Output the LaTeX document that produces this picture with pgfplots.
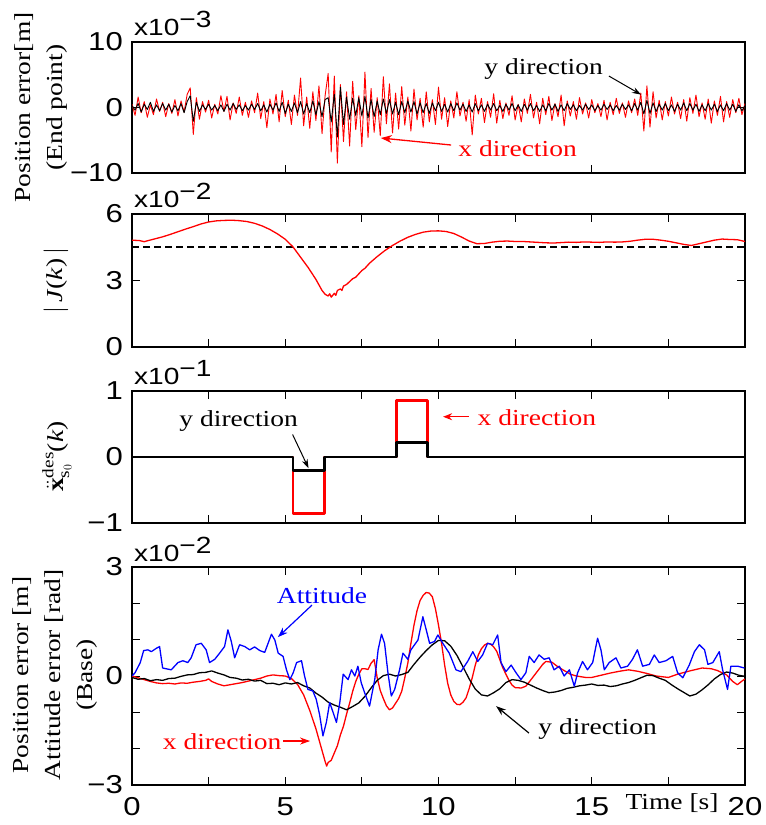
\documentclass[border=0pt]{standalone}
\usepackage{amsmath}
\usepackage{fontspec}
\setmainfont{Liberation Serif}[FakeStretch=1.2]
\newfontfamily\sansf{Liberation Sans}[FakeStretch=1.2]
\usepackage{pgfplots}
\pgfplotsset{compat=1.18}
\usepackage{pgfplotstable}
\usetikzlibrary{arrows.meta}
\newcommand\tickfont{\sansf\fontsize{26}{26}\selectfont}
\newcommand\lblfont{\fontsize{23}{32}\selectfont}
\newcommand\expfont{\sansf\fontsize{23.5}{23.5}\selectfont}
\definecolor{myred}{RGB}{255,0,0}
\definecolor{myblue}{RGB}{0,0,255}

\pgfplotstableread{
t xr yb
0.0 0.5 0.3
0.1 -1.2 -0.4
0.2 1.6 0.6
0.3 -0.8 -0.7
0.4 0.9 0.5
0.5 -1.5 -0.3
0.6 0.4 0.8
0.7 -1.1 -0.6
0.8 1.3 0.4
0.9 -0.6 -0.5
1.0 0.8 0.6
1.1 -1.4 -0.4
1.2 0.6 0.5
1.3 -0.9 -0.7
1.4 1.2 0.3
1.5 -1.3 -0.5
1.6 1.0 0.6
1.7 -0.7 -0.8
1.8 2.0 0.9
1.9 3.0 1.8
2.0 -4.1 -2.1
2.1 1.5 0.8
2.2 -1.8 -0.6
2.3 0.9 0.4
2.4 -0.7 -0.3
2.5 1.1 0.5
2.6 -1.6 -0.4
2.7 0.5 0.3
2.8 -1.0 -0.5
2.9 1.8 0.4
3.0 -0.6 -0.6
3.1 1.7 0.5
3.2 -1.9 -0.4
3.3 0.7 0.6
3.4 -0.9 -0.3
3.5 1.6 0.4
3.6 -1.2 -0.5
3.7 0.8 0.3
3.8 -1.5 -0.4
3.9 1.0 0.5
4.0 -0.8 -0.3
4.1 2.2 0.6
4.2 -1.7 -0.5
4.3 0.9 0.4
4.4 -3.1 -0.7
4.5 1.3 0.5
4.6 -1.0 -0.4
4.7 2.0 0.7
4.8 -2.2 -0.6
4.9 2.6 0.8
5.0 -1.4 -0.9
5.1 1.1 0.5
5.2 -2.6 -0.6
5.3 1.9 0.7
5.4 -1.2 -0.8
5.5 4.5 0.9
5.6 -2.8 -1.0
5.7 1.6 0.6
5.8 -3.2 -0.8
5.9 2.4 1.0
6.0 -2.0 -1.1
6.1 3.3 0.9
6.2 -4.0 -1.4
6.3 1.8 1.2
6.4 5.2 1.5
6.5 -6.8 -2.2
6.6 4.8 2.0
6.7 -8.5 -4.5
6.8 3.5 3.1
6.9 -5.2 -2.6
7.0 2.4 1.6
7.1 -5.9 -1.8
7.2 4.0 1.4
7.3 -3.4 -1.2
7.4 1.8 1.5
7.5 -6.0 -1.3
7.6 5.4 1.7
7.7 -4.6 -1.6
7.8 2.9 1.2
7.9 -3.8 -1.4
8.0 1.5 1.0
8.1 -4.3 -1.1
8.2 4.7 1.3
8.3 -2.5 -0.9
8.4 3.6 1.2
8.5 -3.9 -1.0
8.6 2.2 0.8
8.7 -3.3 -1.1
8.8 3.2 0.9
8.9 -2.7 -0.8
9.0 1.6 1.0
9.1 -3.6 -0.7
9.2 2.8 0.9
9.3 -1.9 -1.0
9.4 1.4 0.7
9.5 -3.0 -0.8
9.6 2.4 0.6
9.7 -2.2 -0.9
9.8 1.2 0.7
9.9 -2.6 -0.5
10.0 3.1 0.8
10.1 -1.8 -0.6
10.2 1.5 0.5
10.3 -2.9 -0.7
10.4 1.0 0.6
10.5 -1.6 -0.5
10.6 2.4 0.7
10.7 -1.3 -0.4
10.8 0.8 0.5
10.9 -2.1 -0.6
11.0 1.2 0.4
11.1 -4.2 -0.7
11.2 1.9 0.6
11.3 -1.0 -0.5
11.4 1.4 0.4
11.5 -2.3 -0.6
11.6 0.9 0.5
11.7 -1.5 -0.4
11.8 2.1 0.6
11.9 -2.4 -0.5
12.0 1.1 0.3
12.1 -1.7 -0.6
12.2 0.7 0.5
12.3 -1.2 -0.4
12.4 1.8 0.6
12.5 -1.9 -0.5
12.6 0.5 0.4
12.7 -2.2 -0.6
12.8 1.3 0.5
12.9 -0.9 -0.4
13.0 2.0 0.6
13.1 -1.6 -0.5
13.2 0.8 0.3
13.3 -2.5 -0.6
13.4 1.4 0.4
13.5 -1.1 -0.5
13.6 1.7 0.6
13.7 -2.0 -0.4
13.8 0.6 0.5
13.9 -1.4 -0.6
14.0 1.9 0.4
14.1 -2.8 -0.5
14.2 1.0 0.6
14.3 -1.3 -0.3
14.4 0.9 0.4
14.5 -1.8 -0.5
14.6 1.5 0.3
14.7 -1.0 -0.4
14.8 0.7 0.5
14.9 -1.6 -0.3
15.0 1.2 0.4
15.1 -0.8 -0.5
15.2 0.6 0.3
15.3 -1.4 -0.4
15.4 1.1 0.5
15.5 -1.9 -0.3
15.6 0.8 0.4
15.7 -1.1 -0.5
15.8 1.4 0.3
15.9 -0.9 -0.4
16.0 0.7 0.5
16.1 -1.5 -0.3
16.2 1.0 0.4
16.3 -0.8 -0.5
16.4 1.3 0.6
16.5 -1.2 -0.4
16.6 2.2 0.8
16.7 -3.6 -1.0
16.8 3.3 1.1
16.9 -3.0 -0.9
17.0 2.4 0.7
17.1 -1.6 -0.6
17.2 1.1 0.5
17.3 -1.9 -0.4
17.4 0.9 0.6
17.5 -1.3 -0.5
17.6 1.6 0.4
17.7 -1.0 -0.6
17.8 0.8 0.5
17.9 -1.7 -0.4
18.0 1.2 0.7
18.1 -2.1 -0.5
18.2 1.5 0.6
18.3 -0.9 -0.4
18.4 1.9 0.5
18.5 -1.4 -0.6
18.6 0.7 0.4
18.7 -1.8 -0.5
18.8 1.3 0.6
18.9 -2.4 -0.4
19.0 1.0 0.5
19.1 -1.2 -0.6
19.2 1.7 0.4
19.3 -2.2 -0.5
19.4 0.9 0.6
19.5 -1.5 -0.4
19.6 1.2 0.5
19.7 -0.8 -0.6
19.8 1.4 0.4
19.9 -1.1 -0.5
20.0 0.6 0.3
}\endpt

\pgfplotstableread{
t J
0 4.82
0.25 4.80
0.4 4.75
0.5 4.79
0.75 4.88
1.0 4.97
1.25 5.08
1.5 5.20
1.75 5.32
2.0 5.43
2.25 5.55
2.5 5.64
2.75 5.69
3.0 5.71
3.25 5.72
3.5 5.70
3.75 5.66
4.0 5.58
4.25 5.46
4.5 5.30
4.75 5.10
5.0 4.86
5.25 4.52
5.5 4.05
5.75 3.58
6.0 3.05
6.2 2.55
6.3 2.38
6.4 2.30
6.45 2.40
6.5 2.25
6.6 2.42
6.65 2.33
6.7 2.55
6.8 2.62
6.85 2.55
6.9 2.75
7.0 2.82
7.1 2.95
7.2 3.08
7.3 3.15
7.4 3.30
7.5 3.45
7.6 3.55
7.75 3.78
8.0 4.08
8.25 4.35
8.5 4.58
8.75 4.78
9.0 4.95
9.25 5.08
9.5 5.18
9.75 5.23
10.0 5.24
10.25 5.21
10.5 5.12
10.75 4.96
11.0 4.78
11.25 4.66
11.5 4.67
11.75 4.73
12.0 4.77
12.25 4.78
12.5 4.76
12.75 4.76
13.0 4.74
13.25 4.72
13.5 4.70
13.75 4.69
14.0 4.71
14.25 4.73
14.5 4.72
14.75 4.74
15.0 4.73
15.25 4.72
15.5 4.74
15.75 4.73
16.0 4.74
16.25 4.77
16.5 4.82
16.75 4.86
17.0 4.86
17.25 4.82
17.5 4.77
17.75 4.70
18.0 4.63
18.25 4.58
18.5 4.66
18.75 4.74
19.0 4.82
19.25 4.87
19.5 4.85
19.75 4.84
20.0 4.76
}\Jt

\pgfplotstableread{
t v
0.0 0.00
0.2 -0.05
0.4 -0.10
0.6 -0.15
0.8 -0.19
1.0 -0.21
1.2 -0.20
1.4 -0.22
1.6 -0.19
1.8 -0.20
2.0 -0.17
2.2 -0.15
2.4 -0.12
2.5 -0.08
2.6 -0.15
2.8 -0.22
3.0 -0.27
3.2 -0.24
3.4 -0.21
3.6 -0.18
3.8 -0.14
4.0 -0.10
4.2 -0.06
4.4 0.00
4.6 0.03
4.8 0.01
5.0 0.00
5.2 -0.07
5.4 -0.23
5.6 -0.52
5.8 -0.95
6.0 -1.45
6.1 -1.75
6.2 -2.05
6.3 -2.35
6.35 -2.48
6.4 -2.38
6.5 -2.32
6.6 -2.12
6.7 -1.92
6.8 -1.62
6.9 -1.38
7.0 -1.05
7.1 -0.75
7.2 -0.42
7.3 -0.15
7.4 0.05
7.5 0.20
7.6 0.20
7.7 0.18
7.8 0.35
7.9 0.45
8.0 -0.05
8.1 -0.40
8.2 -0.62
8.3 -0.82
8.4 -0.93
8.5 -0.88
8.6 -0.75
8.7 -0.62
8.8 -0.42
8.9 -0.05
9.0 0.36
9.1 0.90
9.2 1.40
9.3 1.80
9.4 2.08
9.5 2.22
9.6 2.30
9.7 2.28
9.8 2.18
9.9 1.85
10.0 1.40
10.1 0.90
10.2 0.30
10.3 -0.20
10.4 -0.52
10.5 -0.70
10.6 -0.78
10.7 -0.79
10.8 -0.72
10.9 -0.60
11.0 -0.35
11.1 -0.05
11.2 0.30
11.3 0.58
11.4 0.75
11.5 0.85
11.6 0.90
11.7 0.88
11.8 0.80
11.9 0.68
12.0 0.45
12.1 0.22
12.2 0.05
12.3 -0.12
12.4 -0.25
12.5 -0.32
12.7 -0.33
12.85 -0.28
13.0 -0.12
13.2 0.10
13.4 0.32
13.5 0.40
13.7 0.38
13.9 0.25
14.1 0.15
14.3 0.05
14.5 0.00
14.8 -0.04
15.0 -0.04
15.3 0.02
15.6 0.08
15.9 0.13
16.2 0.17
16.5 0.13
16.8 0.07
17.1 0.00
17.5 -0.04
17.8 0.05
18.2 0.14
18.6 0.22
18.9 0.20
19.1 0.15
19.4 0.03
19.6 -0.15
19.75 -0.24
19.9 -0.14
20.0 -0.08
}\redb

\pgfplotstableread{
t v
0.0 -0.04
0.2 -0.09
0.4 -0.07
0.6 -0.13
0.8 -0.10
1.0 -0.12
1.2 -0.07
1.4 -0.06
1.6 -0.01
1.8 0.03
2.0 0.04
2.2 0.09
2.4 0.10
2.6 0.14
2.8 0.08
3.0 0.03
3.2 -0.04
3.4 -0.06
3.6 -0.11
3.8 -0.09
4.0 -0.14
4.2 -0.12
4.4 -0.21
4.6 -0.20
4.8 -0.24
5.0 -0.19
5.2 -0.22
5.4 -0.18
5.6 -0.27
5.8 -0.33
6.0 -0.47
6.2 -0.58
6.4 -0.72
6.6 -0.80
6.8 -0.86
7.0 -0.93
7.2 -0.84
7.4 -0.74
7.6 -0.56
7.8 -0.33
8.0 -0.12
8.2 0.01
8.4 0.05
8.6 0.00
8.8 0.04
9.0 0.10
9.2 0.32
9.4 0.52
9.6 0.70
9.8 0.86
10.0 0.98
10.2 0.97
10.4 0.82
10.6 0.57
10.8 0.25
11.0 -0.08
11.2 -0.36
11.4 -0.52
11.6 -0.55
11.8 -0.46
12.0 -0.35
12.2 -0.18
12.4 -0.10
12.6 -0.12
12.8 -0.17
13.0 -0.25
13.2 -0.33
13.4 -0.40
13.6 -0.46
13.8 -0.44
14.0 -0.40
14.2 -0.34
14.4 -0.31
14.6 -0.27
14.8 -0.25
15.0 -0.22
15.2 -0.26
15.4 -0.25
15.6 -0.29
15.8 -0.27
16.0 -0.22
16.2 -0.18
16.4 -0.12
16.6 -0.05
16.8 0.02
17.0 0.01
17.2 -0.06
17.4 -0.12
17.6 -0.24
17.8 -0.35
18.0 -0.45
18.2 -0.55
18.4 -0.50
18.6 -0.38
18.8 -0.24
19.0 -0.08
19.2 0.04
19.4 0.11
19.6 0.08
19.8 0.02
20.0 -0.01
}\blackb

\pgfplotstableread{
t v
0.0 0.00
0.1 0.09
0.27 0.37
0.38 0.70
0.52 0.72
0.63 0.67
0.79 0.76
0.90 0.81
1.00 0.22
1.28 0.17
1.50 0.37
1.66 0.42
1.82 0.37
1.93 0.50
2.09 0.86
2.26 0.90
2.42 0.72
2.53 0.37
2.70 0.46
2.86 0.63
3.02 0.81
3.13 1.27
3.24 0.95
3.35 0.50
3.51 0.86
3.68 0.81
3.84 0.72
4.00 0.80
4.17 0.70
4.33 0.65
4.44 0.90
4.55 1.15
4.66 0.99
4.77 0.63
4.93 0.54
5.04 0.17
5.15 -0.10
5.26 0.09
5.37 0.37
5.53 0.42
5.63 0.00
5.74 -0.37
5.90 -0.41
6.01 -0.64
6.12 -1.06
6.23 -1.65
6.34 -1.28
6.45 -0.73
6.56 -1.00
6.67 -1.28
6.78 -0.73
6.89 0.05
7.05 -0.10
7.16 0.17
7.27 0.00
7.37 0.27
7.48 -0.19
7.59 -0.46
7.75 -0.83
7.92 -0.10
8.03 0.72
8.14 1.15
8.24 0.90
8.35 0.09
8.46 -0.55
8.57 -0.37
8.73 0.17
8.84 0.63
9.00 0.46
9.10 0.72
9.33 0.99
9.49 1.63
9.60 1.27
9.71 0.90
9.87 0.95
9.98 1.13
10.14 0.90
10.35 0.63
10.57 0.17
10.73 0.12
10.95 0.40
11.12 0.67
11.28 0.40
11.44 0.58
11.60 0.90
11.77 0.86
11.93 1.13
12.04 0.37
12.20 0.12
12.37 0.30
12.53 0.09
12.69 -0.10
12.85 0.09
12.96 0.54
13.12 0.37
13.28 0.58
13.45 0.46
13.61 0.50
13.77 0.17
13.94 0.27
14.10 0.00
14.27 0.17
14.43 -0.28
14.54 0.09
14.70 0.40
14.86 0.17
15.03 0.37
15.19 1.04
15.30 0.72
15.41 0.17
15.57 0.37
15.79 0.50
15.95 0.22
16.17 0.27
16.33 0.46
16.49 0.72
16.66 0.27
16.88 0.32
17.04 0.58
17.20 0.37
17.42 0.42
17.64 0.54
17.80 0.09
17.97 -0.05
18.18 0.30
18.35 0.67
18.51 0.86
18.68 0.72
18.79 0.32
18.95 0.37
19.16 0.67
19.27 0.17
19.43 -0.37
19.54 0.27
19.76 0.27
19.98 0.22
}\blueb

\pgfplotsset{
  base/.style={
    scale only axis, width=613bp, xmin=0, xmax=20,
    clip mode=individual,
    axis line style={line width=1.8bp},
    tick style={line width=1.0bp, black},
    major tick length=8bp, minor tick length=8bp,
    tick label style={font=\tickfont, inner sep=0pt},
    yticklabel style={xshift=-9bp},
    xticklabel style={yshift=-12bp},
    every axis plot/.append style={line join=round},
  },
}

\begin{document}
\begin{tikzpicture}
\useasboundingbox (0,0) rectangle (766bp,825bp);

% Panel 1
\begin{axis}[base, at={(132bp,652bp)}, anchor=south west, height=131bp,
  ymin=-10, ymax=10, ytick={-10,0,10}, yticklabels={−10,0,10},
  xtick={5,10,15}, xticklabels={}, xtick pos=left]
\addplot[myred, line width=0.9bp] table[x=t, y=xr] {\endpt};
\addplot[black, line width=0.9bp] table[x=t, y=yb] {\endpt};
\node[anchor=base west, inner sep=0pt, font=\expfont] at (rel axis cs:0,1) [xshift=2bp, yshift=6bp] {x10\raisebox{8bp}{−3}};
\node[font=\lblfont, inner sep=0pt] at (axis cs:13.43,5.9) {y direction};
\draw[-{Stealth[length=9bp,width=6bp]}, line width=1bp] (axis cs:15.56,4.8) -- (axis cs:16.61,1.96);
\node[font=\lblfont, inner sep=0pt, text=myred] at (axis cs:12.58,-6.34) {x direction};
\draw[-{Stealth[length=11bp,width=8bp]}, line width=1.3bp, myred] (axis cs:10.41,-5.73) -- (axis cs:8.12,-4.66);
\end{axis}

% Panel 2
\begin{axis}[base, at={(132bp,478bp)}, anchor=south west, height=133bp,
  ymin=0, ymax=6, ytick={0,3,6}, yticklabels={0,3,6},
  xtick={2.5,5,7.5,10,12.5,15,17.5}, xticklabels={}]
\addplot[black, line width=1.5bp, dash pattern=on 7bp off 4bp] coordinates {(0,4.5) (20,4.5)};
\addplot[myred, line width=1.3bp] table[x=t, y=J] {\Jt};
\node[anchor=base west, inner sep=0pt, font=\expfont] at (rel axis cs:0,1) [xshift=2bp, yshift=6bp] {x10\raisebox{8bp}{−2}};
\end{axis}

% Panel 3
\begin{axis}[base, at={(132bp,302bp)}, anchor=south west, height=132bp,
  ymin=-1, ymax=1, ytick={-1,0,1}, yticklabels={−1,0,1},
  xtick={2.5,5,7.5,10,12.5,15,17.5}, xticklabels={}]
\addplot[myred, line width=2.8bp] coordinates {(0,0) (5.25,0) (5.25,-0.86) (6.29,-0.86) (6.29,0) (8.62,0) (8.62,0.86) (9.64,0.86) (9.64,0) (20,0)};
\addplot[black, line width=2.8bp] coordinates {(0,0) (5.25,0) (5.25,-0.21) (6.29,-0.21) (6.29,0) (8.62,0) (8.62,0.22) (9.64,0.22) (9.64,0) (20,0)};
\node[anchor=base west, inner sep=0pt, font=\expfont] at (rel axis cs:0,1) [xshift=2bp, yshift=6bp] {x10\raisebox{8bp}{−1}};
\node[font=\lblfont, inner sep=0pt] at (axis cs:3.48,0.54) {y direction};
\draw[-{Stealth[length=9bp,width=6bp]}, line width=1bp] (axis cs:5.24,0.34) -- (axis cs:5.76,-0.17);
\draw[-{Stealth[length=9bp,width=7bp]}, line width=1.3bp, myred] (axis cs:10.98,0.61) -- (axis cs:10.15,0.61);
\node[font=\lblfont, inner sep=0pt, text=myred, anchor=west] at (axis cs:11.27,0.6) {x direction};
\end{axis}

% Panel 4
\begin{axis}[base, at={(132bp,40bp)}, anchor=south west, height=218bp,
  ymin=-3, ymax=3, ytick={-3,-2,-1,0,1,2,3}, yticklabels={−3,,,0,,,3},
  xtick={0,5,10,15,20}, xticklabels={0,5,10,15,20},
  minor xtick={2.5,7.5,12.5,17.5}]
\addplot[myred, line width=1.3bp] table[x=t, y=v] {\redb};
\addplot[black, line width=1.3bp] table[x=t, y=v] {\blackb};
\addplot[myblue, line width=1.3bp] table[x=t, y=v] {\blueb};
\node[anchor=base west, inner sep=0pt, font=\expfont] at (rel axis cs:0,1) [xshift=2bp, yshift=6bp] {x10\raisebox{8bp}{−2}};
\node[font=\lblfont, inner sep=0pt, text=myblue] at (axis cs:6.2,2.22) {Attitude};
\draw[-{Stealth[length=10bp,width=7bp]}, line width=1.2bp, myblue] (axis cs:5.87,1.95) -- (axis cs:4.76,1.07);
\node[font=\lblfont, inner sep=0pt, text=myred] at (axis cs:2.94,-1.80) {x direction};
\draw[-{Stealth[length=10bp,width=7bp]}, line width=1.2bp, myred] (axis cs:4.93,-1.79) -- (axis cs:5.81,-1.79);
\node[font=\lblfont, inner sep=0pt] at (axis cs:15.19,-1.46) {y direction};
\draw[-{Stealth[length=10bp,width=7bp]}, line width=1.2bp] (axis cs:12.95,-1.57) -- (axis cs:11.88,-0.83);
\node[font=\lblfont, inner sep=0pt, anchor=north] at (axis cs:17.62,-3) [yshift=-8bp] {Time [s]};
\end{axis}

% y labels
\node[font=\lblfont, rotate=90, align=center, inner sep=0pt] at (41bp,717.5bp) {Position error[m]\\(End point)};
\node[font=\lblfont, rotate=90, inner sep=0pt] at (56bp,544.5bp) {$|$\,\textit{J}(\textit{k})\,$|$};
\node[font=\lblfont, rotate=90, inner sep=0pt] at (57bp,368.5bp) {$\ddot{\text{\textbf{x}}}^{\text{des}}_{\text{s}_{0}}$(\textit{k})};
\node[font=\lblfont, rotate=90, align=center, inner sep=0pt] at (55bp,150bp) {Position error [m]\\Attitude error [rad]\\(Base)};
\end{tikzpicture}
\end{document}
